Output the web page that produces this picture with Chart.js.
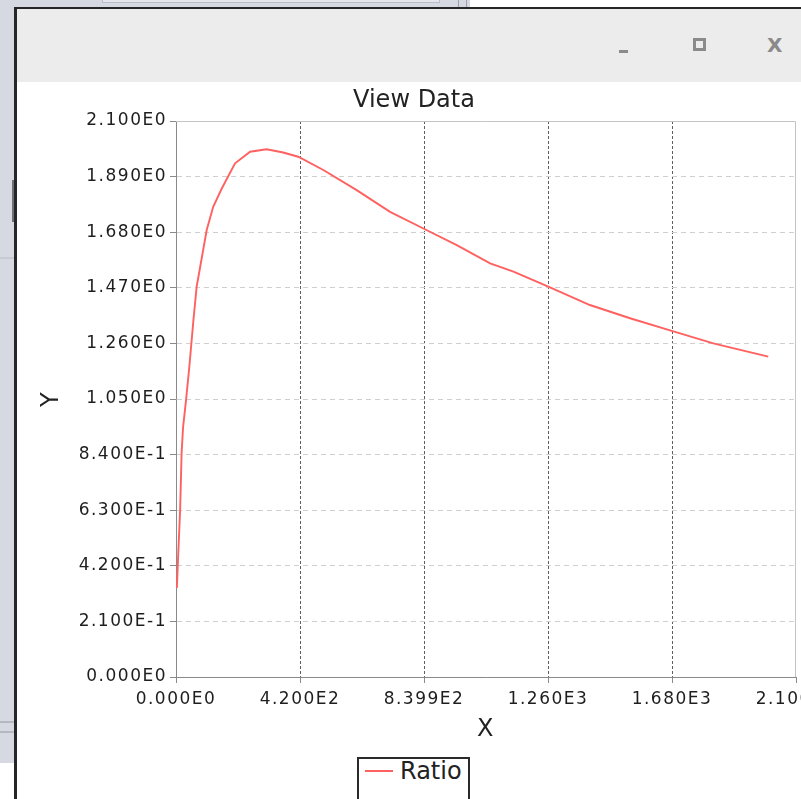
<!DOCTYPE html>
<html>
<head>
<meta charset="utf-8">
<title>View Data</title>
<script src="https://cdn.jsdelivr.net/npm/chart.js@4.4.1/dist/chart.umd.min.js"></script>
<style>
	html, body { margin: 0; padding: 0; }
	body { width: 801px; height: 799px; overflow: hidden; position: relative; background: #fff; font-family: 'DejaVu Sans', sans-serif; }
	.bg-left { position: absolute; left: 0; top: 0; width: 15px; height: 763px; background: #d6d9e1; }
	.bg-top { position: absolute; left: 0; top: 0; width: 470px; height: 8px; background: #d6d9e1; }
	.bg-field { position: absolute; left: 102px; top: -4px; width: 336px; height: 5px; border: 1px solid #b9bdc5; background: #e4e6eb; }
	.bg-vline { position: absolute; top: 0; width: 1px; height: 8px; background: #9a9ea6; }
	.bg-hline { position: absolute; left: 0; width: 14px; height: 2px; background: #b4b8c0; }
	.bg-mark { position: absolute; left: 12px; top: 180px; width: 2px; height: 42px; background: #6d7078; }
	.window { position: absolute; left: 14px; top: 7px; width: 830px; height: 830px; border-left: 3px solid #262626; border-top: 2px solid #262626; background: #fff; }
	.titlebar { position: absolute; left: 0; top: 0; width: 100%; height: 73px; background: #ececec; }
	.btn-min { position: absolute; left: 602px; top: 41px; width: 9px; height: 3px; background: #8a8a8a; }
	.btn-max { position: absolute; left: 676px; top: 29px; width: 7px; height: 7px; border: 3px solid #8a8a8a; }
	.btn-close { position: absolute; left: 750px; top: 24px; font: 20px 'DejaVu Sans', sans-serif; font-weight: 600; color: #8a8a8a; }
	#chartBox { position: absolute; left: 0; top: 73px; }
	#legend { position: absolute; left: 340px; top: 748px; height: 40px; border: 2px solid #2a2a2a; background: #fff; padding: 0 6px 0 6px; display: flex; align-items: flex-start; }
	.legend-item { display: flex; align-items: center; height: 40px; margin-top: -8px; }
	.legend-line { width: 28px; height: 2px; margin-right: 7px; }
	.legend-text { font: 24px 'DejaVu Sans', sans-serif; color: #222; }
</style>
</head>
<body>
<div class="bg-left"></div>
<div class="bg-top"></div>
<div class="bg-field"></div>
<div class="bg-vline" style="left:458px"></div>
<div class="bg-vline" style="left:466px"></div>
<div class="bg-mark"></div>
<div class="bg-hline" style="top:257px; background:#c6cad2"></div>
<div class="bg-hline" style="top:721px"></div>
<div class="bg-hline" style="top:731px"></div>

<div class="window">
	<div class="titlebar">
		<div class="btn-min"></div>
		<div class="btn-max"></div>
		<div class="btn-close">X</div>
	</div>
	<div id="chartBox"><canvas id="chart" width="794" height="670"></canvas></div>
	<div id="legend"></div>
</div>

<script>
var chartTitle = 'View Data';
var seriesName = 'Ratio';
var xAxisName = 'X';
var yAxisName = 'Y';

var xValues = [3, 7, 14, 19, 24, 34, 45, 59, 70, 104, 126, 155, 200, 251, 307, 363, 414, 499, 612, 725, 838, 951, 1064, 1143, 1261, 1402, 1538, 1679, 1820, 2006];
var yValues = [0.336, 0.449, 0.631, 0.846, 0.944, 1.046, 1.170, 1.348, 1.474, 1.688, 1.776, 1.845, 1.940, 1.984, 1.993, 1.981, 1.965, 1.915, 1.839, 1.757, 1.694, 1.631, 1.562, 1.531, 1.474, 1.405, 1.355, 1.307, 1.260, 1.210];

var xTickValues = [0, 420, 840, 1260, 1680, 2100];
var xTickLabels = ['0.000E0', '4.200E2', '8.399E2', '1.260E3', '1.680E3', '2.100E3'];
var yTickValues = [0, 0.21, 0.42, 0.63, 0.84, 1.05, 1.26, 1.47, 1.68, 1.89, 2.1];
var yTickLabels = ['0.000E0', '2.100E-1', '4.200E-1', '6.300E-1', '8.400E-1', '1.050E0', '1.260E0', '1.470E0', '1.680E0', '1.890E0', '2.100E0'];

var lineColor = 'rgb(255, 96, 96)';
var chart = null;

// title, plot outline and letter spacing for the tick labels
var framePlugin = {
	id: 'frame',
	beforeDraw: function (c) {
		c.ctx.letterSpacing = '1.5px';
	},
	beforeDatasetsDraw: function (c) {
		var a = c.chartArea;
		var ctx = c.ctx;
		ctx.save();
		ctx.strokeStyle = '#c4c4c4';
		ctx.lineWidth = 1;
		ctx.beginPath();
		ctx.moveTo(a.left, a.top + 0.5);
		ctx.lineTo(a.right - 0.5, a.top + 0.5);
		ctx.lineTo(a.right - 0.5, a.bottom);
		ctx.stroke();
		ctx.restore();
	},
	afterDraw: function (c) {
		var ctx = c.ctx;
		ctx.save();
		ctx.letterSpacing = '0px';
		ctx.fillStyle = '#222';
		ctx.font = '24px "DejaVu Sans"';
		ctx.textAlign = 'center';
		ctx.textBaseline = 'middle';
		ctx.fillText(chartTitle, c.width / 2, 19);
		ctx.restore();
		ctx.letterSpacing = '0px';
	}
};

function paintChart() {
	var ctx = document.getElementById('chart').getContext('2d');

	var points = xValues.map(function (x, i) {
		return { x: x, y: yValues[i] };
	});

	Chart.defaults.font.family = 'DejaVu Sans';

	chart = new Chart(ctx, {
		type: 'line',
		data: {
			datasets: [{
				label: seriesName,
				data: points,
				borderColor: lineColor,
				borderWidth: 1.9,
				pointRadius: 0,
				tension: 0,
				fill: false
			}]
		},
		options: {
			responsive: false,
			animation: false,
			devicePixelRatio: 1,
			layout: { padding: { top: 39, left: 0, right: 15, bottom: 0 } },
			plugins: {
				legend: { display: false },
				title: { display: false },
				tooltip: { enabled: false }
			},
			scales: {
				x: {
					type: 'linear',
					min: 0,
					max: 2100,
					afterBuildTicks: function (s) {
						s.ticks = xTickValues.map(function (v) { return { value: v }; });
					},
					afterFit: function (s) {
						s.height = 75;
						s.paddingLeft = 0;
						s.paddingRight = 0;
					},
					ticks: {
						autoSkip: false,
						maxRotation: 0,
						padding: 6,
						color: '#1e1e1e',
						font: { size: 17 },
						callback: function (v, i) { return xTickLabels[i]; }
					},
					grid: {
						color: function (c) {
							return c.index === xTickValues.length - 1 ? 'rgba(0,0,0,0)' : '#5e5e5e';
						},
						borderDash: [3, 2],
						tickLength: 6,
						tickColor: '#8a8a8a',
						tickBorderDash: []
					},
					border: { color: '#8a8a8a', width: 1, dash: [3, 2] },
					title: {
						display: true,
						text: xAxisName,
						color: '#222',
						font: { size: 24 },
						padding: { top: 0, bottom: 8 }
					}
				},
				y: {
					min: 0,
					max: 2.1,
					afterBuildTicks: function (s) {
						s.ticks = yTickValues.map(function (v) { return { value: v }; });
					},
					afterFit: function (s) {
						s.width = 159;
						s.paddingTop = 0;
						s.paddingBottom = 0;
					},
					ticks: {
						autoSkip: false,
						padding: 3,
						color: '#1e1e1e',
						font: { size: 17 },
						callback: function (v, i) { return yTickLabels[i]; }
					},
					grid: {
						color: function (c) {
							return c.index === yTickValues.length - 1 ? 'rgba(0,0,0,0)' : '#d0d0d0';
						},
						borderDash: [5, 4],
						tickLength: 6,
						tickColor: '#8a8a8a',
						tickBorderDash: []
					},
					border: { color: '#8a8a8a', width: 1, dash: [5, 4] },
					title: {
						display: true,
						text: yAxisName,
						color: '#222',
						font: { size: 24 },
						padding: { top: 20, bottom: 0 }
					}
				}
			}
		},
		plugins: [framePlugin]
	});

	// legend box under the chart, built from the dataset
	var legend = document.getElementById('legend');
	chart.data.datasets.forEach(function (ds) {
		var item = document.createElement('div');
		item.className = 'legend-item';
		var line = document.createElement('div');
		line.className = 'legend-line';
		line.style.background = ds.borderColor;
		var text = document.createElement('span');
		text.className = 'legend-text';
		text.textContent = ds.label;
		item.appendChild(line);
		item.appendChild(text);
		legend.appendChild(item);
	});
}

paintChart();
</script>
</body>
</html>
